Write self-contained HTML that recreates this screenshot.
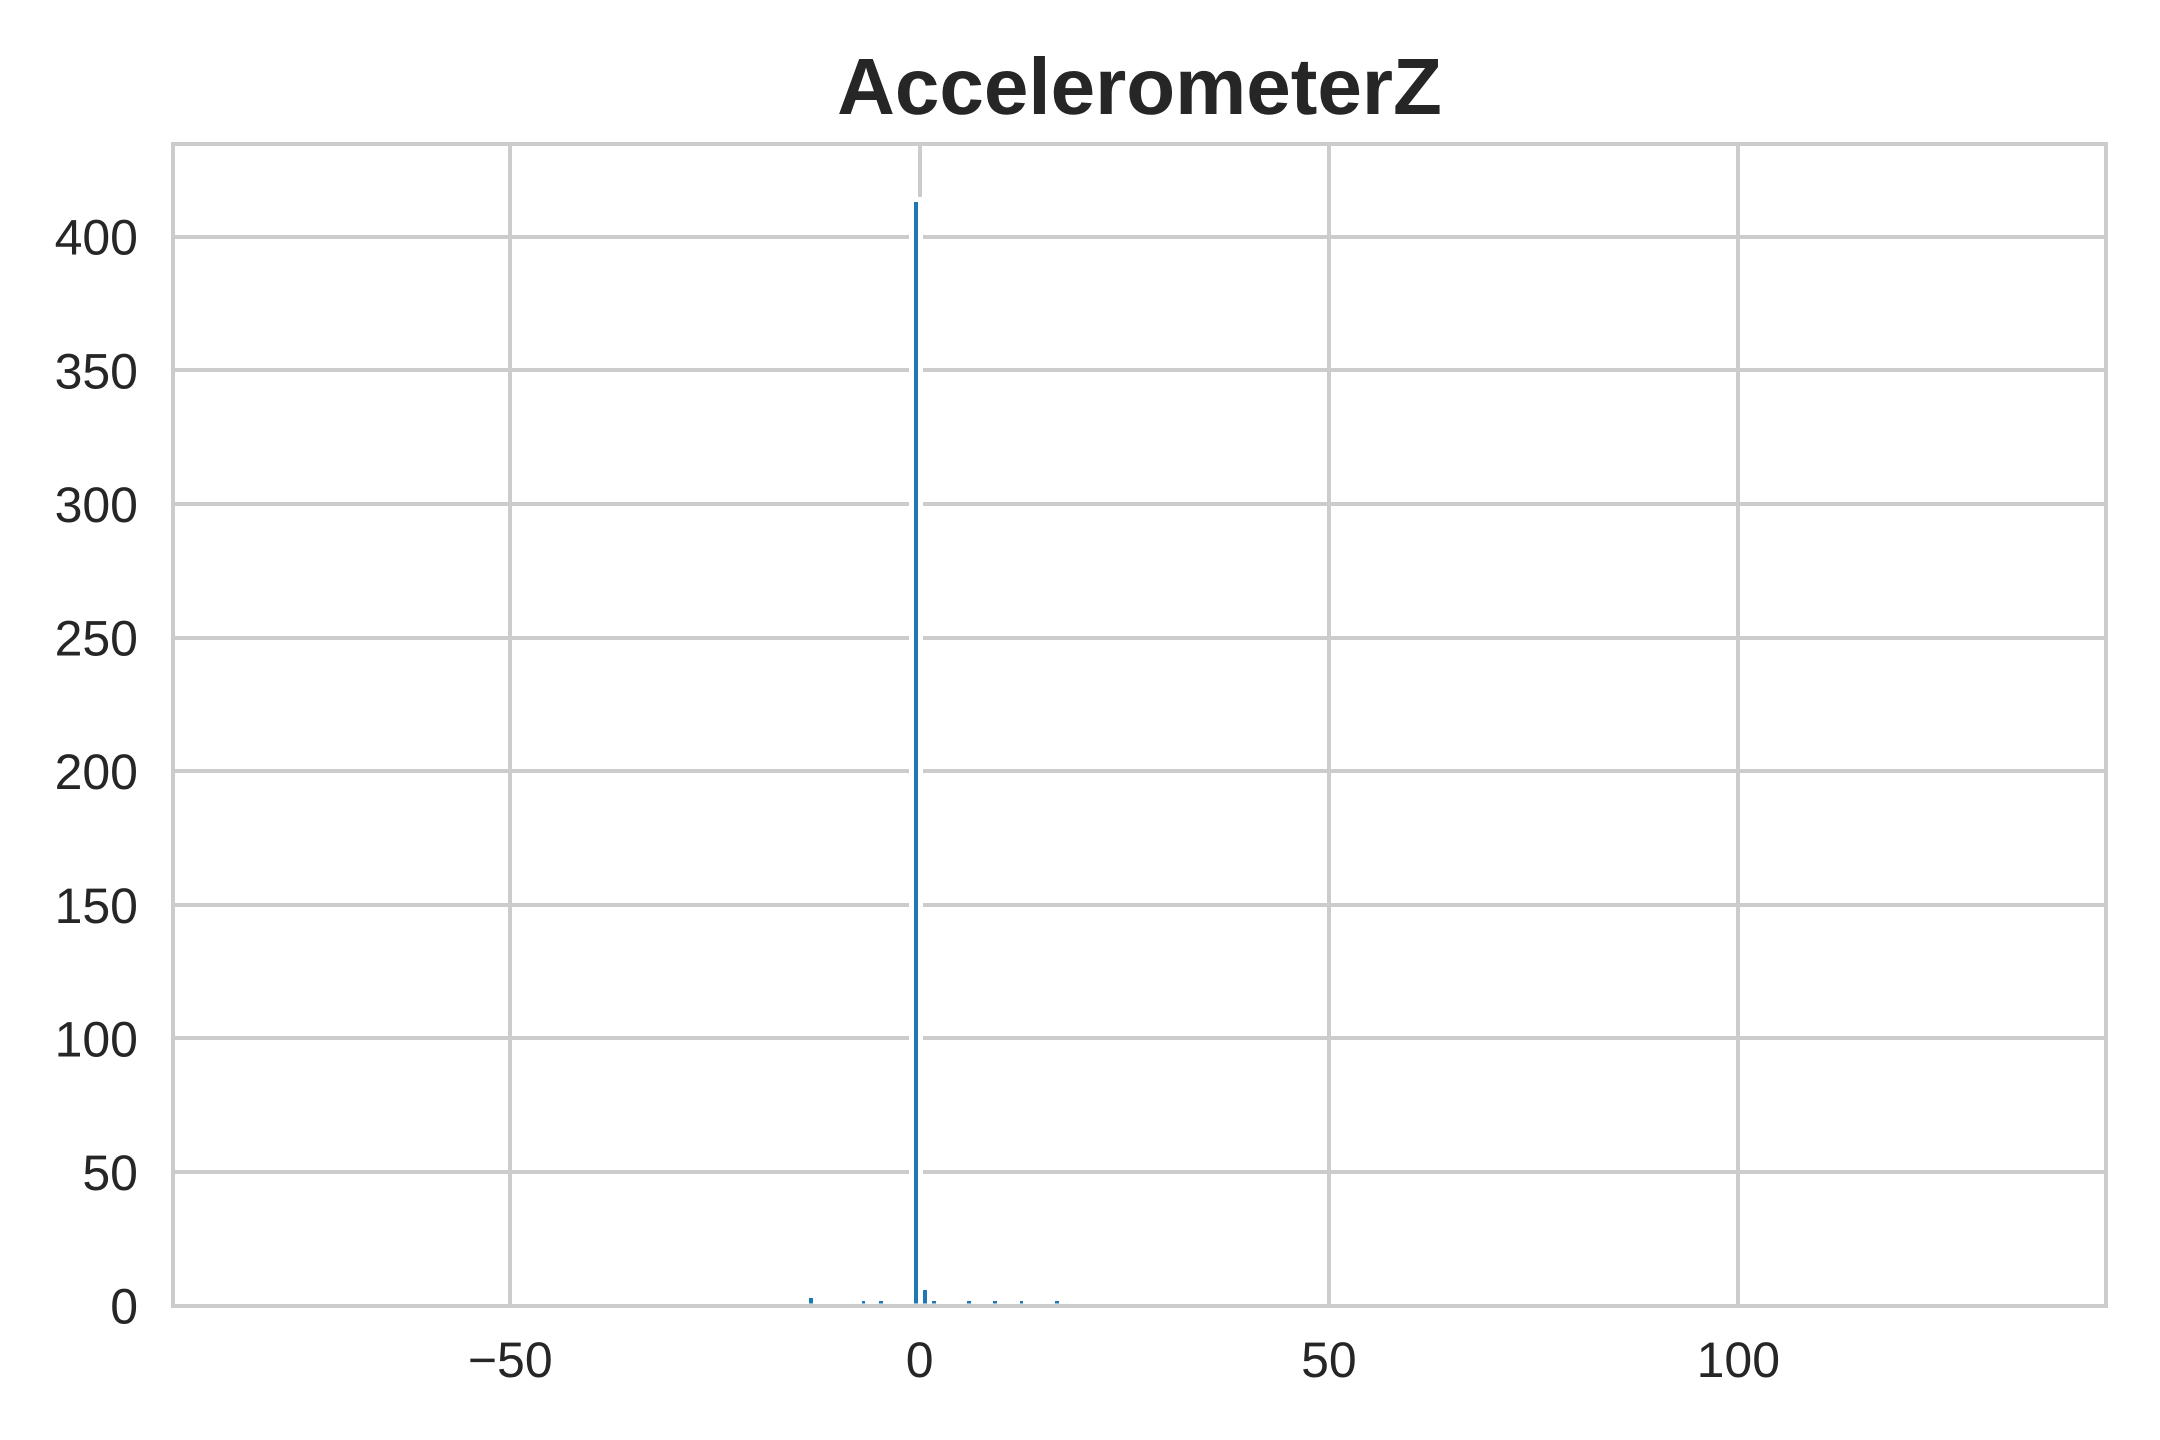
<!DOCTYPE html>
<html lang="en">
<head>
<meta charset="utf-8">
<title>AccelerometerZ</title>
<style>
html,body{margin:0;padding:0;background:#fff;width:2160px;height:1440px;overflow:hidden}
svg{display:block}
text{font-family:"Liberation Sans",Arial,sans-serif;fill:#262626;text-rendering:geometricPrecision}
</style>
</head>
<body>
<svg id="chart" xmlns="http://www.w3.org/2000/svg" width="2160" height="1440" viewBox="0 0 2160 1440">
<rect x="0" y="0" width="2160" height="1440" fill="#ffffff"/>
<g id="grid"></g>
<g id="bars"></g>
<g id="spines"></g>
<g id="xticks"></g>
<g id="yticks"></g>
<text x="1139.5" y="114" text-anchor="middle" font-size="80" font-weight="700">AccelerometerZ</text>
</svg>
<script>
const binCenters = [-13.30, -6.862, -4.716, -0.423, 0.650, 1.723, 6.016, 9.236, 12.455, 16.748];
const binCounts = [4, 3, 3, 414, 7, 3, 3, 3, 3, 3];
const binWidth = 1.0732;
const xTickValues = [-50, 0, 50, 100];
const yTickValues = [0, 50, 100, 150, 200, 250, 300, 350, 400];

const NS = 'http://www.w3.org/2000/svg';
const plot = {left: 173, right: 2106, top: 144, bottom: 1306};
function xScale(v) { return 919.6 + 8.187 * v; }
function yScale(v) { return 1305.7 - 2.6725 * v; }
function make(tag, attrs) {
  const el = document.createElementNS(NS, tag);
  for (const k in attrs) el.setAttribute(k, attrs[k]);
  return el;
}
const GRID = '#cccccc';

const gridG = document.getElementById('grid');
xTickValues.forEach(function (v) {
  const x = Math.round(xScale(v));
  const l = make('line', {x1: x, x2: x, y1: plot.top, y2: plot.bottom, stroke: GRID, 'stroke-width': 4});
  
  
  gridG.appendChild(l);
});
yTickValues.forEach(function (v) {
  const y = Math.round(yScale(v));
  const l = make('line', {x1: plot.left, x2: plot.right, y1: y, y2: y, stroke: GRID, 'stroke-width': 4});
  
  
  gridG.appendChild(l);
});

const barsG = document.getElementById('bars');
binCenters.forEach(function (c, i) {
  const x0 = Math.floor(xScale(c - binWidth / 2)) + 0.5;
  const x1 = Math.floor(xScale(c + binWidth / 2)) + 0.5;
  const yTop = Math.round(yScale(binCounts[i])) + 0.5;
  const r = make('rect', {x: x0, y: yTop, width: x1 - x0, height: plot.bottom - yTop, fill: '#1f77b4', stroke: '#ffffff', 'stroke-width': 5});
  
  
  barsG.appendChild(r);
});

const spinesG = document.getElementById('spines');
const frame = make('rect', {x: plot.left, y: plot.top, width: plot.right - plot.left, height: plot.bottom - plot.top, fill: 'none', stroke: GRID, 'stroke-width': 4});


spinesG.appendChild(frame);

const xG = document.getElementById('xticks');
xTickValues.forEach(function (v) {
  const t = make('text', {x: xScale(v), y: 1377, 'text-anchor': 'middle', 'font-size': 50});
  t.textContent = String(v).replace('-', '\u2212');
  
  
  xG.appendChild(t);
});
const yG = document.getElementById('yticks');
yTickValues.forEach(function (v) {
  const t = make('text', {x: 138, y: yScale(v) + 18, 'text-anchor': 'end', 'font-size': 50});
  t.textContent = String(v);
  
  
  yG.appendChild(t);
});
</script>
</body>
</html>
